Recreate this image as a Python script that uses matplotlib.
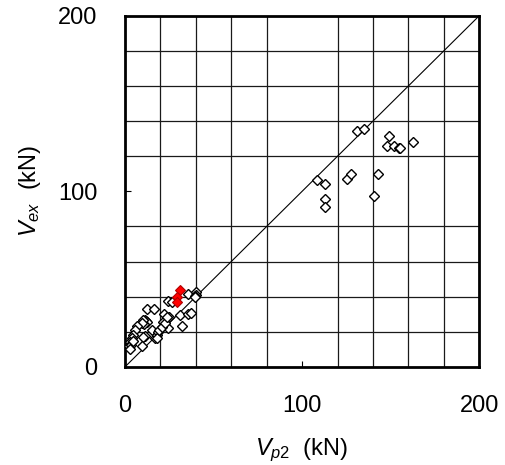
import matplotlib
matplotlib.use("Agg")
import matplotlib.pyplot as plt
import numpy as np

plt.rcParams["font.family"] = ["Liberation Sans", "DejaVu Sans"]
plt.rcParams["mathtext.fontset"] = "custom"
plt.rcParams["mathtext.rm"] = "Liberation Sans"
plt.rcParams["mathtext.it"] = "Liberation Sans:italic"

# measured data (open diamonds)
vp2 = [130.8, 134.9, 149.2, 147.7, 151.8, 154.8, 155.2, 162.4,
       108.4, 112.9, 112.9, 112.9, 125.1, 127.6, 143.0, 140.7,
       35.7, 40.1, 40.1, 39.7, 39.3, 24.5, 26.3,
       12.2, 16.4, 22.2, 25.0, 31.0, 35.7, 37.3, 32.4,
       21.6, 24.1, 11.3, 11.7, 12.2, 10.7, 10.4, 9.4, 15.4,
       6.6, 5.6, 4.7, 3.8, 2.8, 2.4, 3.2,
       11.3, 10.4, 16.9, 17.9, 18.8, 17.9, 19.4, 20.7,
       9.4, 2.8, 4.7, 22.6, 23.5]
vex = [134.6, 135.7, 131.6, 126.1, 126.1, 124.7, 124.7, 128.3,
       106.4, 104.1, 95.5, 91.0, 107.3, 110.0, 110.0, 97.1,
       41.5, 42.5, 41.1, 40.2, 39.6, 37.7, 37.2,
       33.0, 33.0, 30.3, 28.4, 29.6, 30.0, 30.7, 23.1,
       25.4, 22.0, 26.9, 25.9, 25.4, 24.6, 26.7, 25.1, 21.2,
       23.5, 21.2, 18.4, 16.5, 14.4, 11.9, 12.7,
       17.4, 17.2, 16.3, 18.1, 20.0, 16.6, 21.2, 22.9,
       11.8, 10.2, 14.6, 24.8, 28.5]

# highlighted specimens (red)
vp2_red = [31.0, 29.2, 29.4]
vex_red = [43.6, 39.6, 36.8]

fig = plt.figure(figsize=(5.06, 4.65), dpi=100)
ax = fig.add_axes([0.247, 0.211, 0.700, 0.755])

ax.plot([0, 200], [0, 200], color="black", lw=0.8, zorder=2)
ax.plot(vp2, vex, ls="none", marker="D", ms=5, mfc="white", mec="black",
        mew=1.0, zorder=3)
ax.plot(vp2_red, vex_red, ls="none", marker="D", ms=5, mfc="red", mec="#b00000",
        mew=0.8, zorder=4)

ax.set_xlim(0, 200)
ax.set_ylim(0, 200)
ax.set_xticks([0, 100, 200])
ax.set_yticks([0, 100, 200])
ax.set_xticks(np.arange(0, 201, 20), minor=True)
ax.set_yticks(np.arange(0, 201, 20), minor=True)
ax.grid(which="minor", color="#1a1a1a", lw=0.9)
ax.tick_params(which="minor", length=0)
ax.tick_params(which="major", direction="in", length=4, labelsize=17, pad=20)
for s in ax.spines.values():
    s.set_linewidth(2.0)

ax.set_xlabel("$V_{p2}$  (kN)", fontsize=17, labelpad=14)
ax.set_ylabel("$V_{ex}$  (kN)", fontsize=17, labelpad=11)

fig.savefig("out.png", dpi=100)
